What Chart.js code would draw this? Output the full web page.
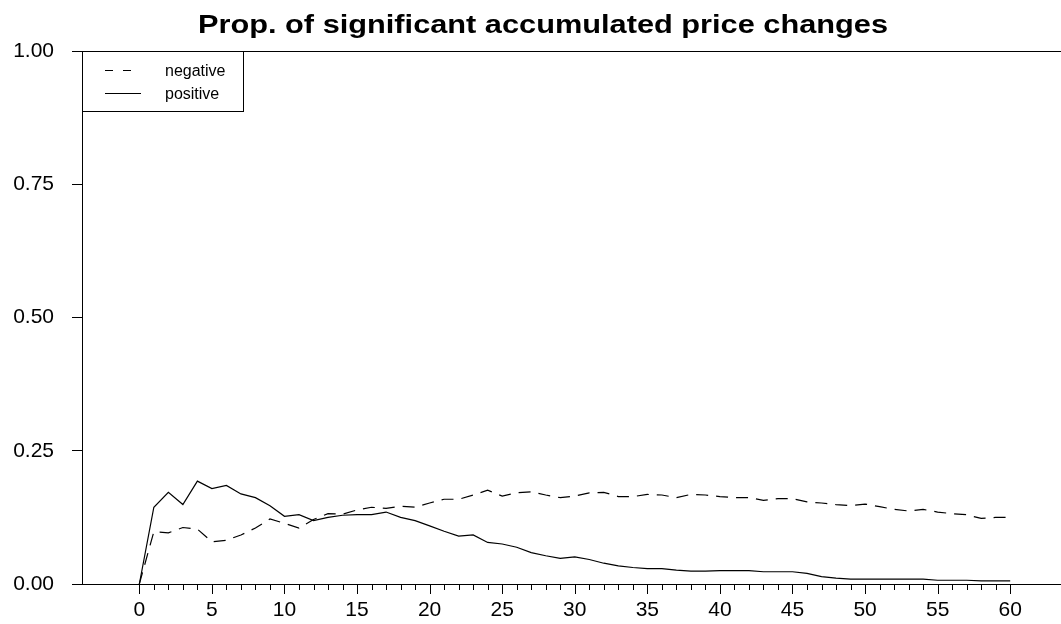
<!DOCTYPE html>
<html>
<head>
<meta charset="utf-8">
<script src="https://cdn.jsdelivr.net/npm/chart.js@4/dist/chart.umd.min.js"></script>
<style>
  html, body { margin: 0; padding: 0; background: #fff; }
  #wrap { width: 1061px; height: 624px; }
</style>
</head>
<body>
<div id="wrap"><canvas id="chart"></canvas></div>
<script>
const lags = [0, 1, 2, 3, 4, 5, 6, 7, 8, 9, 10, 11, 12, 13, 14, 15, 16, 17, 18, 19, 20,
  21, 22, 23, 24, 25, 26, 27, 28, 29, 30, 31, 32, 33, 34, 35, 36, 37, 38, 39, 40,
  41, 42, 43, 44, 45, 46, 47, 48, 49, 50, 51, 52, 53, 54, 55, 56, 57, 58, 59, 60];
const majorTicks = [0, 5, 10, 15, 20, 25, 30, 35, 40, 45, 50, 55, 60];
const yTicks = [0, 0.25, 0.5, 0.75, 1];

const negative = [0, 0.098, 0.096, 0.106, 0.103, 0.079, 0.082, 0.092, 0.105, 0.122,
  0.114, 0.105, 0.121, 0.132, 0.131, 0.139, 0.144, 0.142, 0.146, 0.144,
  0.152, 0.159, 0.159, 0.167, 0.176, 0.165, 0.171, 0.173, 0.167, 0.162,
  0.165, 0.171, 0.172, 0.164, 0.164, 0.168, 0.167, 0.162, 0.168, 0.167,
  0.164, 0.162, 0.162, 0.157, 0.160, 0.160, 0.154, 0.152, 0.149, 0.147,
  0.150, 0.145, 0.140, 0.137, 0.140, 0.135, 0.132, 0.130, 0.123, 0.125, 0.125];
const positive = [0, 0.144, 0.172, 0.149, 0.193, 0.179, 0.185, 0.169, 0.162, 0.147,
  0.127, 0.130, 0.119, 0.125, 0.129, 0.130, 0.130, 0.135, 0.125, 0.119,
  0.109, 0.099, 0.090, 0.092, 0.078, 0.075, 0.069, 0.059, 0.053, 0.048,
  0.051, 0.046, 0.039, 0.034, 0.031, 0.029, 0.029, 0.026, 0.024, 0.024,
  0.025, 0.025, 0.025, 0.023, 0.023, 0.023, 0.020, 0.014, 0.011, 0.009,
  0.009, 0.009, 0.009, 0.009, 0.009, 0.007, 0.007, 0.007, 0.006, 0.006, 0.006];

const TITLE = 'Prop. of significant accumulated price changes';
const FONT = '"Liberation Sans", Arial, Helvetica, sans-serif';

// title drawn a bit wide, like the original
const wideTitle = {
  id: 'wideTitle',
  afterDraw(chart) {
    const ctx = chart.ctx;
    ctx.save();
    ctx.font = 'bold 26px ' + FONT;
    ctx.fillStyle = '#000';
    ctx.textAlign = 'center';
    ctx.textBaseline = 'alphabetic';
    const w = ctx.measureText(TITLE).width;
    const sx = 690 / w;
    ctx.translate(543, 33);
    ctx.scale(sx, 1);
    ctx.fillText(TITLE, 0, 0);
    ctx.restore();
  }
};

// x ticks: long at every 5, short otherwise
const xTickMarks = {
  id: 'xTickMarks',
  afterDraw(chart) {
    const ctx = chart.ctx;
    const x = chart.scales.x;
    const bottom = chart.chartArea.bottom;
    ctx.save();
    ctx.strokeStyle = '#000';
    ctx.lineWidth = 1;
    lags.forEach(v => {
      const px = Math.round(x.getPixelForValue(v)) + 0.5;
      const len = majorTicks.includes(v) ? 10 : 6;
      ctx.beginPath();
      ctx.moveTo(px, bottom);
      ctx.lineTo(px, bottom + len);
      ctx.stroke();
    });
    ctx.restore();
  }
};

// boxed legend in the top left corner of the plot
const boxLegend = {
  id: 'boxLegend',
  afterDraw(chart) {
    const ctx = chart.ctx;
    const { left, top } = chart.chartArea;
    ctx.save();
    ctx.fillStyle = '#fff';
    ctx.fillRect(left, top, 161, 60);
    ctx.strokeStyle = '#000';
    ctx.lineWidth = 1;
    ctx.strokeRect(left + 0.5, top + 0.5, 161, 60);

    const items = [
      { label: 'negative', dash: [8, 10], len: 26, y: 19.5 },
      { label: 'positive', dash: [], len: 36, y: 42.5 }
    ];
    ctx.font = '16px ' + FONT;
    ctx.textBaseline = 'middle';
    ctx.textAlign = 'left';
    items.forEach(it => {
      ctx.beginPath();
      ctx.setLineDash(it.dash);
      ctx.lineWidth = 1.2;
      ctx.moveTo(left + 23, top + it.y);
      ctx.lineTo(left + 23 + it.len, top + it.y);
      ctx.stroke();
      ctx.setLineDash([]);
      ctx.fillStyle = '#000';
      ctx.fillText(it.label, left + 83, top + it.y + 1);
    });
    ctx.restore();
  }
};

new Chart(document.getElementById('chart'), {
  type: 'line',
  data: {
    datasets: [
      {
        label: 'negative',
        data: lags.map((v, i) => ({ x: v, y: negative[i] })),
        borderColor: '#000',
        borderWidth: 1.2,
        borderDash: [12, 8],
        pointRadius: 0,
        tension: 0,
        fill: false
      },
      {
        label: 'positive',
        data: lags.map((v, i) => ({ x: v, y: positive[i] })),
        borderColor: '#000',
        borderWidth: 1.2,
        pointRadius: 0,
        tension: 0,
        fill: false
      }
    ]
  },
  options: {
    responsive: true,
    maintainAspectRatio: false,
    devicePixelRatio: 1,
    animation: false,
    layout: { padding: { left: 0, right: 0, top: 51, bottom: 0 } },
    plugins: {
      legend: { display: false },
      tooltip: { enabled: false },
      title: { display: false }
    },
    scales: {
      x: {
        type: 'linear',
        min: -3.95,
        max: 63.5,
        afterFit(scale) { scale.height = 40; },
        afterBuildTicks(scale) { scale.ticks = lags.map(v => ({ value: v })); },
        grid: { display: false, drawTicks: false },
        border: { display: true, color: '#000', width: 1 },
        ticks: {
          autoSkip: false,
          maxRotation: 0,
          padding: 14,
          color: '#000',
          font: { family: FONT, size: 21 },
          callback: v => majorTicks.includes(v) ? String(v) : ''
        }
      },
      y: {
        min: 0,
        max: 1,
        afterFit(scale) { scale.width = 82; },
        afterBuildTicks(scale) { scale.ticks = yTicks.map(v => ({ value: v })); },
        grid: {
          drawOnChartArea: true,
          color: c => (c.tick && c.tick.value === 1) ? '#000' : 'rgba(0,0,0,0)',
          tickColor: '#000',
          tickLength: 10,
          lineWidth: 1
        },
        border: { display: true, color: '#000', width: 1 },
        ticks: {
          padding: 18,
          color: '#000',
          font: { family: FONT, size: 21 },
          callback: v => v.toFixed(2)
        }
      }
    }
  },
  plugins: [wideTitle, xTickMarks, boxLegend]
});
</script>
</body>
</html>
